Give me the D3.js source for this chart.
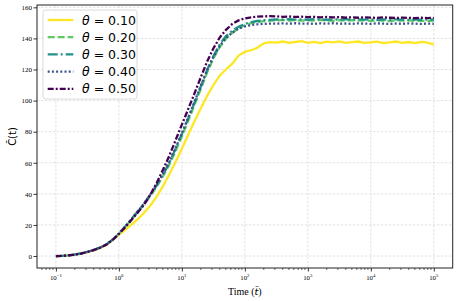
<!DOCTYPE html>
<html>
<head>
<meta charset="utf-8">
<script src="https://cdn.jsdelivr.net/npm/d3@7"></script>
<style>
  body { margin: 0; background: #fff; }
  svg { display: block; }
</style>
</head>
<body>
<svg id="chart" width="458" height="301"></svg>
<script>
// time points (t~)
const times = [0.1, 0.126, 0.158, 0.2, 0.251, 0.316, 0.398, 0.501, 0.631, 0.794,
  1, 1.26, 1.58, 2, 2.51, 3.16, 3.98, 5.01, 6.31, 7.94,
  10, 12.6, 15.8, 20, 25.1, 31.6, 39.8, 50.1, 63.1, 79.4,
  100, 126, 158, 200, 251, 316, 398, 501, 631, 794,
  1000, 1260, 1580, 2000, 2510, 3160, 3980, 5010, 6310, 7940,
  10000, 12600, 15800, 20000, 25100, 31600, 39800, 50100, 63100, 79400, 100000]

const theta010 = [0, 0.1, 0.4, 0.9, 1.6, 2.5, 3.6, 5.1, 7.2, 10.1,
  13.8, 16.8, 20.2, 23.8, 27.8, 32.5, 38.2, 45, 52.5, 60.5,
  69, 78, 86.5, 95, 103, 110, 116, 120, 123.8, 129,
  131.3, 132.4, 134, 136.8, 137.6, 137.3, 138.0, 137.1, 137.7, 138.2,
  137.2, 137.8, 137.0, 137.9, 137.4, 138.1, 137.1, 137.6, 138.0, 137.1,
  137.5, 137.9, 137.0, 137.4, 138.0, 137.2, 137.7, 137.0, 137.8, 137.3, 136.0]

const theta020 = [0, 0.1, 0.4, 0.9, 1.7, 2.7, 3.9, 5.4, 7.4, 10.4,
  14.4, 18.8, 23.4, 28.2, 33.2, 38.6, 44.6, 51.3, 58.7, 67.5,
  77, 87, 97, 107.5, 118, 127, 134.3, 139.8, 143.5, 146.5,
  148.5, 149.8, 150.6, 151.1, 151.4, 151.6, 151.9, 151.5, 151.8, 151.4,
  151.7, 151.5, 151.9, 151.6, 151.3, 151.7, 151.5, 151.8, 151.4, 151.6,
  151.3, 151.7, 151.5, 151.2, 151.6, 151.4, 151.7, 151.3, 151.5, 151.2, 151.4]

const theta030 = [0, 0.1, 0.4, 0.9, 1.7, 2.7, 3.9, 5.4, 7.5, 10.5,
  14.5, 19.0, 23.8, 28.8, 33.9, 39.4, 45.4, 52.4, 60, 69,
  78.5, 88.5, 98.5, 109, 119.5, 128.5, 136, 141.5, 145, 147.5,
  149.3, 150.5, 151.2, 151.7, 151.9, 152.2, 152.0, 152.4, 152.1, 152.3,
  152.0, 152.4, 152.2, 152.0, 152.3, 152.1, 152.4, 152.0, 152.2, 152.1,
  152.3, 151.9, 152.2, 152.0, 152.3, 152.1, 151.9, 152.2, 152.0, 152.2, 152.1]

const theta040 = [0, 0.1, 0.4, 0.9, 1.7, 2.7, 3.9, 5.4, 7.5, 10.5,
  14.5, 18.9, 23.7, 28.8, 33.9, 39.5, 45.7, 52.8, 60.5, 69.5,
  79, 89, 99, 109.5, 119.5, 128, 135, 140.3, 143.8, 146.2,
  147.7, 148.6, 149.1, 149.4, 149.5, 149.5, 149.7, 149.4, 149.8, 149.5,
  149.6, 149.3, 149.7, 149.5, 149.8, 149.4, 149.6, 149.3, 149.7, 149.5,
  149.4, 149.7, 149.5, 149.3, 149.6, 149.4, 149.7, 149.5, 149.3, 149.6, 149.4]

const theta050 = [0, 0.1, 0.4, 0.9, 1.6, 2.6, 3.8, 5.3, 7.3, 10.3,
  14.2, 18.5, 23.2, 28, 33, 39.5, 47, 55.5, 64.5, 74.5,
  84.5, 94.5, 104.5, 115, 125, 133.5, 140.5, 145.5, 149.3, 151.6,
  152.9, 153.6, 154.0, 154.2, 154.3, 154.2, 153.9, 154.1, 153.8, 154.0,
  153.7, 153.9, 153.6, 153.8, 153.5, 153.7, 153.4, 153.6, 153.3, 153.6,
  153.4, 153.2, 153.5, 153.3, 153.1, 153.4, 153.2, 153.0, 153.3, 153.1, 153.2]

const seriesNames = ['0.10', '0.20', '0.30', '0.40', '0.50']
const seriesValues = [theta010, theta020, theta030, theta040, theta050]
const yTicks = [0, 20, 40, 60, 80, 100, 120, 140, 160]
const xTickExps = [-1, 0, 1, 2, 3, 4, 5]

// styles per series (viridis)
const colors = ['#fde725', '#5ec962', '#21918c', '#3b528b', '#440154']
const dashes = [null, '7,3', '10,3,2,3', '2,2.2', '6,2,2,2']

const svg = d3.select('#chart')
const plotLeft = 37, plotRight = 452.7, plotTop = 5, plotBottom = 268

const x = d3.scaleLog().domain([Math.pow(10, -1.3), Math.pow(10, 5.3)]).range([plotLeft, plotRight])
const y = d3.scaleLinear().domain([-7.7, 161.5]).range([plotBottom, plotTop])

// grid
const grid = svg.append('g')
grid.selectAll('.gx').data(xTickExps).enter().append('line')
  .attr('x1', d => x(Math.pow(10, d))).attr('x2', d => x(Math.pow(10, d)))
  .attr('y1', plotTop).attr('y2', plotBottom)
  .attr('stroke', '#d6d6d6').attr('stroke-width', 0.7).attr('stroke-dasharray', '2.5,1.5')
grid.selectAll('.gy').data(yTicks).enter().append('line')
  .attr('x1', plotLeft).attr('x2', plotRight)
  .attr('y1', d => y(d)).attr('y2', d => y(d))
  .attr('stroke', '#d6d6d6').attr('stroke-width', 0.7).attr('stroke-dasharray', '2.5,1.5')

// lines
const line = d3.line()
  .x((d, i) => x(times[i]))
  .y(d => y(d))

svg.append('defs').append('clipPath').attr('id', 'clip')
  .append('rect').attr('x', plotLeft).attr('y', plotTop)
  .attr('width', plotRight - plotLeft).attr('height', plotBottom - plotTop)

const linesG = svg.append('g').attr('clip-path', 'url(#clip)')
seriesValues.forEach((vals, k) => {
  linesG.append('path')
    .datum(vals)
    .attr('d', line)
    .attr('fill', 'none')
    .attr('stroke', colors[k])
    .attr('stroke-width', 2.3)
    .attr('stroke-dasharray', dashes[k])
})

// axes
const xAxis = svg.append('g').attr('transform', `translate(0,${plotBottom})`)
  .call(d3.axisBottom(x).tickValues(xTickExps.map(e => Math.pow(10, e))).tickSize(3.5).tickFormat(''))
xAxis.select('.domain').remove()
const minor = []
for (let e = -2; e <= 5; e++) {
  for (let m = 2; m <= 9; m++) {
    const v = m * Math.pow(10, e)
    if (v > x.domain()[0] && v < x.domain()[1]) minor.push(v)
  }
}
xAxis.selectAll('.minor').data(minor).enter().append('line')
  .attr('x1', d => x(d)).attr('x2', d => x(d)).attr('y1', 0).attr('y2', 2)
  .attr('stroke', '#000').attr('stroke-width', 0.6)
xAxis.selectAll('.tick line').attr('stroke-width', 0.8)

const xLabels = svg.append('g')
xTickExps.forEach(e => {
  const t = xLabels.append('text')
    .attr('x', x(Math.pow(10, e)))
    .attr('y', 280.3)
    .attr('text-anchor', 'middle')
    .attr('font-family', 'Liberation Serif, serif')
    .attr('font-size', 6.8)
  t.append('tspan').text('10')
  t.append('tspan').attr('dy', -3).attr('font-size', 4.8).text(e < 0 ? '\u2212' + Math.abs(e) : e)
})

const yAxis = svg.append('g').attr('transform', `translate(${plotLeft},0)`)
  .call(d3.axisLeft(y).tickValues(yTicks).tickSize(3.5).tickPadding(1.5))
yAxis.select('.domain').remove()
yAxis.selectAll('.tick line').attr('stroke-width', 0.8)
yAxis.selectAll('.tick text')
  .attr('font-family', 'Liberation Serif, serif')
  .attr('font-size', 7)
  .attr('fill', '#000')

// frame
svg.append('rect')
  .attr('x', plotLeft).attr('y', plotTop)
  .attr('width', plotRight - plotLeft).attr('height', plotBottom - plotTop)
  .attr('fill', 'none').attr('stroke', '#222').attr('stroke-width', 1)

// axis titles
const xt = svg.append('text')
  .attr('x', (plotLeft + plotRight) / 2).attr('y', 295)
  .attr('text-anchor', 'middle')
  .attr('font-family', 'Liberation Serif, serif')
  .attr('font-size', 10)
xt.append('tspan').text('Time (')
xt.append('tspan').attr('font-family', 'DejaVu Sans, sans-serif').attr('font-style', 'italic').attr('font-size', 9.5).text('t\u0303')
xt.append('tspan').text(')')

svg.append('text')
  .attr('transform', `translate(16,${(plotTop + plotBottom) / 2}) rotate(-90)`)
  .attr('text-anchor', 'middle')
  .attr('font-family', 'DejaVu Sans, sans-serif')
  .attr('font-size', 10)
  .text('C\u0303(t)')

// legend
const legend = svg.append('g')
legend.append('rect')
  .attr('x', 43).attr('y', 10).attr('width', 94).attr('height', 89)
  .attr('rx', 2.5)
  .attr('fill', '#fff').attr('fill-opacity', 0.85)
  .attr('stroke', '#d0d0d0').attr('stroke-width', 0.8)
seriesNames.forEach((name, k) => {
  const cy = 20 + k * 17.2
  legend.append('line')
    .attr('x1', 47.7).attr('x2', 73.3).attr('y1', cy).attr('y2', cy)
    .attr('stroke', colors[k]).attr('stroke-width', 2.3)
    .attr('stroke-dasharray', dashes[k])
  const t = legend.append('text')
    .attr('x', 82).attr('y', cy + 4.5)
    .attr('font-family', 'DejaVu Sans, sans-serif')
    .attr('font-size', 12.5)
  t.append('tspan').attr('font-style', 'italic').text('\u03b8')
  t.append('tspan').text(' = ' + name)
})
</script>
</body>
</html>
